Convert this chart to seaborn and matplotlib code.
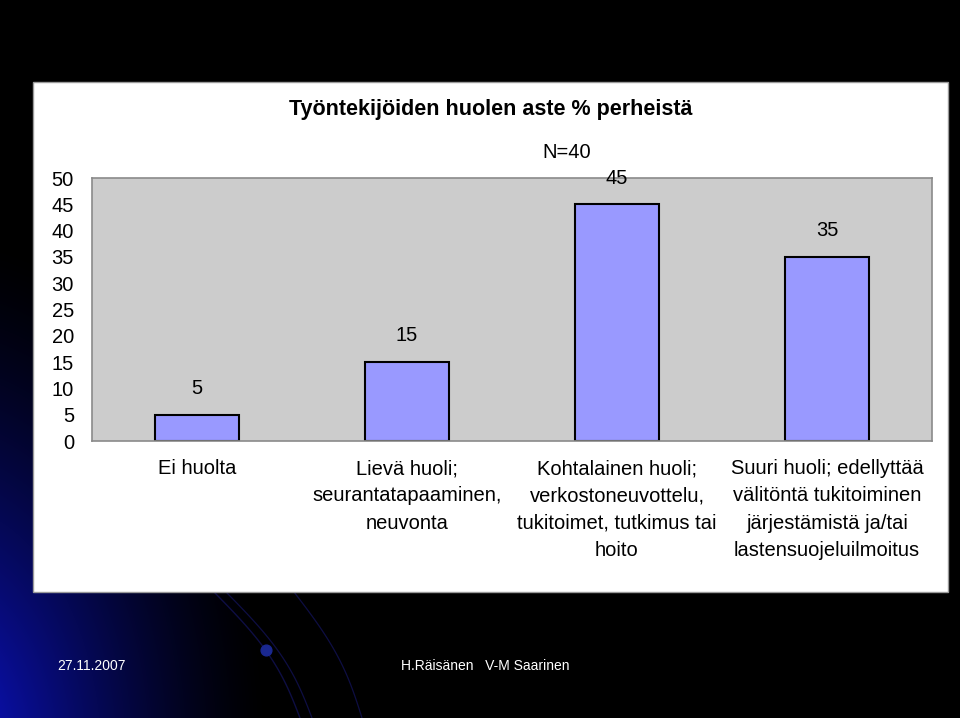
import numpy as np
import pandas as pd
import matplotlib
matplotlib.use("Agg")
import matplotlib.pyplot as plt
import seaborn as sns
from matplotlib.patches import Rectangle

categories = [
    "Ei huolta",
    "Lievä huoli;\nseurantatapaaminen,\nneuvonta",
    "Kohtalainen huoli;\nverkostoneuvottelu,\ntukitoimet, tutkimus tai\nhoito",
    "Suuri huoli; edellyttää\nvälitöntä tukitoiminen\njärjestämistä ja/tai\nlastensuojeluilmoitus",
]
values = [5, 15, 45, 35]
yticks = [0, 5, 10, 15, 20, 25, 30, 35, 40, 45, 50]
title = "Työntekijöiden huolen aste % perheistä"
note = "N=40"
footer_date = "27.11.2007"
footer_authors = "H.Räisänen   V-M Saarinen"

sns.set_theme(style="white")
plt.rcParams["font.family"] = ["Liberation Sans", "DejaVu Sans"]
plt.rcParams["text.color"] = "black"
plt.rcParams["xtick.labelcolor"] = "black"
plt.rcParams["ytick.labelcolor"] = "black"

W, H = 960, 718
fig = plt.figure(figsize=(W / 100, H / 100), dpi=100, facecolor="black")

# background gradient (blue glow bottom-left)
bg = fig.add_axes([0, 0, 1, 1], zorder=-10)
yy, xx = np.mgrid[0:H, 0:W]
d = np.sqrt(((xx + 60) / 1.0) ** 2 + ((yy - 760) / 1.6) ** 2)
inten = np.clip(1 - d / 330, 0, 1) ** 1.4
img = np.zeros((H, W, 3))
img[..., 0] = 0.05 * inten
img[..., 1] = 0.08 * inten
img[..., 2] = 0.85 * inten
bg.imshow(img, extent=[0, W, H, 0], aspect="auto", interpolation="bilinear")
# decorative arcs
t = np.linspace(0, 1, 100)
for x0, x1, bend, lw in [(214, 300, 40, 1.0), (226, 312, 40, 0.9), (294, 362, 30, 0.9)]:
    xs = x0 + (x1 - x0) * t + bend * np.sin(np.pi * t) * 0.3
    ys = 592 + (H - 592) * t
    bg.plot(xs, ys, color="#141460", lw=lw, alpha=0.7)
bg.scatter([266], [650], s=60, color="#1a2890", zorder=3)
bg.set_xlim(0, W)
bg.set_ylim(H, 0)
bg.axis("off")

# white panel
fig.patches.append(Rectangle((33 / W, 1 - 592 / H), (948 - 33) / W, (592 - 82) / H,
                             transform=fig.transFigure, facecolor="white",
                             edgecolor="#9a9a9a", lw=1, zorder=-5))

ax = fig.add_axes([92 / W, 1 - 441 / H, (932 - 92) / W, (441 - 178) / H])
ax.set_facecolor("#CCCCCC")
df = pd.DataFrame({"cat": categories, "val": values})
sns.barplot(data=df, x="cat", y="val", color="#9999FF", edgecolor="black",
            linewidth=1.5, width=0.4, saturation=1, ax=ax)
ax.set_ylim(0, 50)
ax.set_xlim(-0.5, 3.5)
ax.set_yticks(yticks)
ax.set_ylabel("")
ax.set_xlabel("")
for c in ax.containers:
    ax.bar_label(c, labels=[str(v) for v in values], padding=12, fontsize=14.5, color="black")
for s in ax.spines.values():
    s.set_color("#8a8a8a")
    s.set_linewidth(1.2)
    s.set_visible(True)
ax.tick_params(axis="y", direction="out", length=4, color="#8a8a8a", labelsize=14.5,
               pad=9, labelcolor="black")
ax.tick_params(axis="x", which="major", length=0, labelsize=14.5, pad=13, labelcolor="black")
ax.set_xticks([0.5, 1.5, 2.5], minor=True)
ax.tick_params(axis="x", which="minor", direction="out", length=4, color="#8a8a8a")
for lbl in ax.get_xticklabels():
    lbl.set_linespacing(1.55)
    lbl.set_ha("center")

fig.text(491 / W, 1 - 110 / H, title, ha="center", va="center", fontsize=15.5,
         fontweight="bold", color="black")
fig.text(567 / W, 1 - 152 / H, note, ha="center", va="center", fontsize=14.5, color="black")

fig.text(57 / W, 1 - 666 / H, footer_date, ha="left", va="center", fontsize=10,
         color="white", family=["Liberation Sans Narrow", "Liberation Sans", "DejaVu Sans"])
fig.text(401 / W, 1 - 666 / H, footer_authors, ha="left", va="center", fontsize=10,
         color="white", family=["Liberation Sans Narrow", "Liberation Sans", "DejaVu Sans"])

fig.savefig("out.png", dpi=100, facecolor="black")
